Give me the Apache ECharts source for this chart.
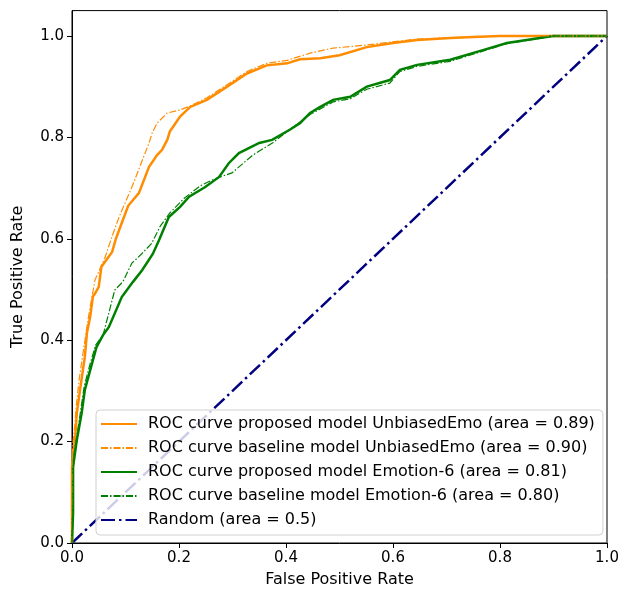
<!DOCTYPE html>
<html><head><meta charset="utf-8">
<script src="https://cdn.jsdelivr.net/npm/echarts@6/dist/echarts.min.js"></script>
<style>html,body{margin:0;padding:0;background:#fff}#c{width:622px;height:589px}</style>
</head><body><div id="c"></div>
<script>
const seriesNames = [
  'ROC curve proposed model UnbiasedEmo (area = 0.89)',
  'ROC curve baseline model UnbiasedEmo (area = 0.90)',
  'ROC curve proposed model Emotion-6 (area = 0.81)',
  'ROC curve baseline model Emotion-6 (area = 0.80)',
  'Random (area = 0.5)'
];
const tickValues = [0, 0.2, 0.4, 0.6, 0.8, 1.0];

const uePropFpr = [0,0,0.002,0.006,0.009,0.015,0.024,0.028,0.034,0.039,0.043,0.050,0.055,0.075,0.082,0.093,0.105,0.125,0.144,0.159,0.168,0.178,0.183,0.189,0.202,0.221,0.252,0.290,0.327,0.364,0.402,0.426,0.464,0.500,0.551,0.600,0.645,0.707,0.750,0.800,1.0];
const uePropTpr = [0,0.15,0.15,0.209,0.256,0.302,0.367,0.415,0.446,0.486,0.492,0.505,0.545,0.574,0.600,0.631,0.665,0.690,0.742,0.765,0.775,0.795,0.812,0.821,0.841,0.860,0.874,0.900,0.926,0.942,0.946,0.954,0.956,0.962,0.978,0.986,0.992,0.996,0.998,1.0,1.0];

const ueBaseFpr = [0,0,0.002,0.005,0.008,0.013,0.020,0.027,0.033,0.043,0.050,0.062,0.075,0.088,0.112,0.144,0.150,0.159,0.178,0.202,0.221,0.252,0.290,0.327,0.364,0.402,0.445,0.488,0.550,0.645,0.750,0.800,1.0];
const ueBaseTpr = [0,0.17,0.20,0.23,0.27,0.32,0.37,0.42,0.46,0.519,0.535,0.564,0.605,0.643,0.702,0.789,0.809,0.828,0.848,0.854,0.862,0.878,0.904,0.930,0.946,0.952,0.966,0.976,0.982,0.994,0.998,1.0,1.0];

const e6PropFpr = [0,0.002,0.002,0.009,0.018,0.024,0.034,0.046,0.058,0.069,0.093,0.114,0.131,0.151,0.163,0.181,0.202,0.219,0.249,0.275,0.293,0.312,0.350,0.374,0.407,0.426,0.445,0.464,0.488,0.520,0.551,0.594,0.613,0.645,0.707,0.768,0.813,0.862,0.899,1.0];
const e6PropTpr = [0,0.06,0.15,0.203,0.256,0.302,0.341,0.387,0.410,0.426,0.485,0.515,0.538,0.570,0.598,0.643,0.663,0.683,0.702,0.722,0.749,0.769,0.789,0.795,0.815,0.828,0.848,0.860,0.874,0.880,0.900,0.913,0.933,0.943,0.953,0.972,0.986,0.994,1.0,1.0];

const e6BaseFpr = [0,0.002,0.003,0.009,0.016,0.023,0.033,0.044,0.058,0.080,0.095,0.112,0.130,0.149,0.165,0.183,0.210,0.239,0.262,0.299,0.338,0.376,0.407,0.445,0.488,0.520,0.551,0.594,0.613,0.645,0.707,0.768,0.813,0.862,0.900,1.0];
const e6BaseTpr = [0,0.08,0.17,0.21,0.26,0.31,0.35,0.39,0.41,0.499,0.515,0.552,0.570,0.591,0.625,0.651,0.680,0.704,0.716,0.730,0.765,0.790,0.815,0.845,0.870,0.876,0.895,0.907,0.930,0.940,0.950,0.970,0.985,0.993,1.0,1.0];

const randFpr = [0, 1];
const randTpr = [0, 1];

function pairs(xs, ys){ return xs.map((x,i)=>[x, ys[i]]); }

const chart = echarts.init(document.getElementById('c'), null, {renderer:'canvas'});
const font = 'DejaVu Sans';
function lineSeries(name, xs, ys, color, width, dash, z){
  return {
    name, type:'line', data: pairs(xs, ys), showSymbol:false, symbol:'none',
    lineStyle:{color, width, type: dash || 'solid', cap:'butt', join:'miter'},
    itemStyle:{color}, z, animation:false, clip:true
  };
}
chart.setOption({
  animation:false,
  grid:{left:72, right:15, top:10.6, bottom:46, containLabel:false, outerBoundsMode:'none',
    show:true, borderColor:'#000', borderWidth:1, backgroundColor:'transparent'},
  xAxis:{type:'value', min:0, max:1.0,
    name:'False Positive Rate', nameLocation:'middle', nameGap:29,
    nameTextStyle:{fontFamily:font, fontSize:16, color:'#000'},
    axisLine:{show:true, onZero:false, lineStyle:{color:'#000', width:1}},
    axisTick:{show:true, inside:false, length:5, lineStyle:{color:'#000'}, customValues: tickValues},
    axisLabel:{fontFamily:font, fontSize:15, color:'#000', margin:8, customValues: tickValues, formatter:v=>v.toFixed(1)},
    splitLine:{show:false}},
  yAxis:{type:'value', min:0, max:1.05,
    name:'True Positive Rate', nameLocation:'middle', nameGap:46, nameRotate:90,
    nameTextStyle:{fontFamily:font, fontSize:16, color:'#000'},
    axisLine:{show:true, onZero:false, lineStyle:{color:'#000', width:1}},
    axisTick:{show:true, inside:false, length:5, lineStyle:{color:'#000'}, customValues: tickValues},
    axisLabel:{fontFamily:font, fontSize:15, color:'#000', margin:8, customValues: tickValues, formatter:v=>v.toFixed(1)},
    splitLine:{show:false}},
  legend:{
    orient:'vertical', left:96, top:410,
    data: seriesNames,
    itemWidth:36, itemHeight:14, itemGap:8,
    padding:[6,8,7,4],
    borderColor:'#d0d0d0', borderWidth:1, borderRadius:4,
    backgroundColor:'rgba(255,255,255,0.8)',
    itemStyle:{opacity:0},
    textStyle:{fontFamily:font, fontSize:16, lineHeight:16, color:'#000', padding:[0,0,0,6]},
    selectedMode:false
  },
  series:[
    lineSeries(seriesNames[0], uePropFpr, uePropTpr, '#ff8c00', 2.5, 'solid', 3),
    lineSeries(seriesNames[1], ueBaseFpr, ueBaseTpr, '#ff8c00', 1.2, [7,2,1.5,2], 4),
    lineSeries(seriesNames[2], e6PropFpr, e6PropTpr, '#008000', 2.5, 'solid', 3),
    lineSeries(seriesNames[3], e6BaseFpr, e6BaseTpr, '#008000', 1.2, [7,2,1.5,2], 4),
    lineSeries(seriesNames[4], randFpr, randTpr, '#000080', 2.5, [14,4,2.5,4], 2)
  ]
});
</script></body></html>
